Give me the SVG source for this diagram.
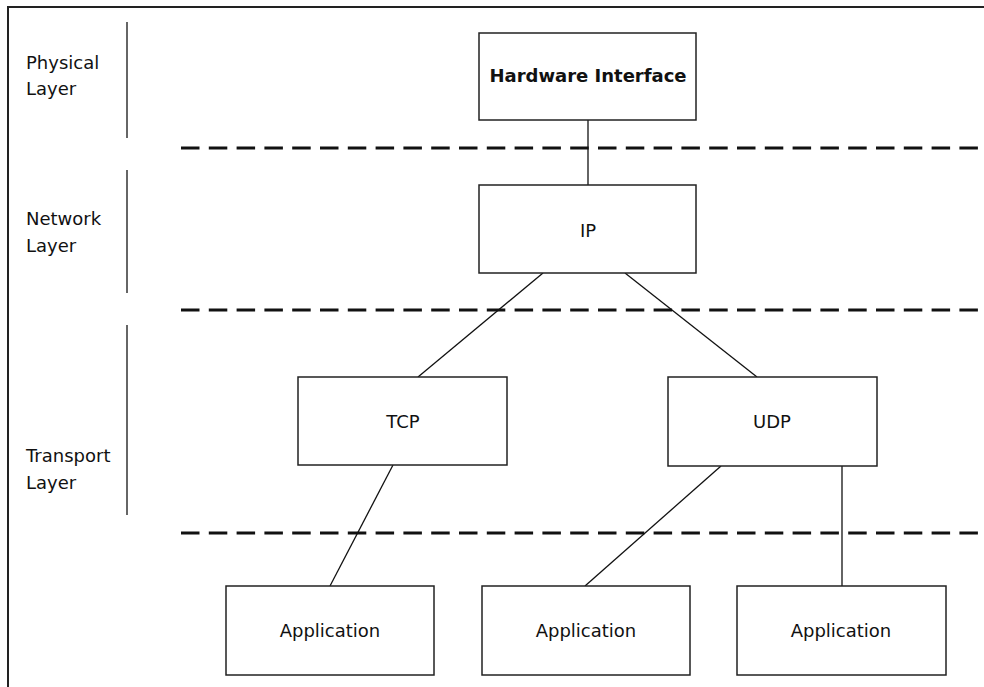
<svg xmlns="http://www.w3.org/2000/svg" width="984" height="687" viewBox="0 0 984 687">
<style>
.box{fill:#fff;stroke:#222;stroke-width:1.5}
.t{font-family:"DejaVu Sans",sans-serif;font-size:18px;fill:#111;text-anchor:middle}
.lbl{font-family:"DejaVu Sans",sans-serif;font-size:18px;fill:#111}
.sep{stroke:#333;stroke-width:1.5}
.dash{stroke:#111;stroke-width:3;stroke-dasharray:18.5 9.3}
.con{stroke:#111;stroke-width:1.3;fill:none}
</style>
<rect width="984" height="687" fill="#fff"/>
<rect x="8" y="7" width="1000" height="700" fill="none" stroke="#222" stroke-width="2"/>
<g id="layer-labels">
<line class="sep" x1="127" y1="22" x2="127" y2="138"/>
<line class="sep" x1="127" y1="170" x2="127" y2="293"/>
<line class="sep" x1="127" y1="325" x2="127" y2="515"/>
<text class="lbl" x="26" y="69">Physical</text>
<text class="lbl" x="26" y="95">Layer</text>
<text class="lbl" x="26" y="225">Network</text>
<text class="lbl" x="26" y="252">Layer</text>
<text class="lbl" x="26" y="462">Transport</text>
<text class="lbl" x="26" y="489">Layer</text>
</g>
<g id="dividers">
<line class="dash" x1="181" y1="148" x2="984" y2="148"/>
<line class="dash" x1="181" y1="310" x2="984" y2="310"/>
<line class="dash" x1="181" y1="533" x2="984" y2="533"/>
</g>
<g id="connectors">
<line class="con" x1="588" y1="120" x2="588" y2="185"/>
<line class="con" x1="543" y1="273" x2="418" y2="377"/>
<line class="con" x1="625" y1="273" x2="757" y2="377"/>
<line class="con" x1="393" y1="465" x2="330" y2="586"/>
<line class="con" x1="721" y1="466" x2="585" y2="586"/>
<line class="con" x1="842" y1="466" x2="842" y2="586"/>
</g>
<g id="hardware">
<rect class="box" x="479" y="33" width="217" height="87"/>
<text class="t" x="588" y="82" font-weight="bold">Hardware Interface</text>
</g>
<g id="ip">
<rect class="box" x="479" y="185" width="217" height="88"/>
<text class="t" x="588" y="237">IP</text>
</g>
<g id="tcp">
<rect class="box" x="298" y="377" width="209" height="88"/>
<text class="t" x="403" y="428">TCP</text>
</g>
<g id="udp">
<rect class="box" x="668" y="377" width="209" height="89"/>
<text class="t" x="772" y="428">UDP</text>
</g>
<g id="app1">
<rect class="box" x="226" y="586" width="208" height="89"/>
<text class="t" x="330" y="637">Application</text>
</g>
<g id="app2">
<rect class="box" x="482" y="586" width="208" height="89"/>
<text class="t" x="586" y="637">Application</text>
</g>
<g id="app3">
<rect class="box" x="737" y="586" width="209" height="89"/>
<text class="t" x="841" y="637">Application</text>
</g>
</svg>
